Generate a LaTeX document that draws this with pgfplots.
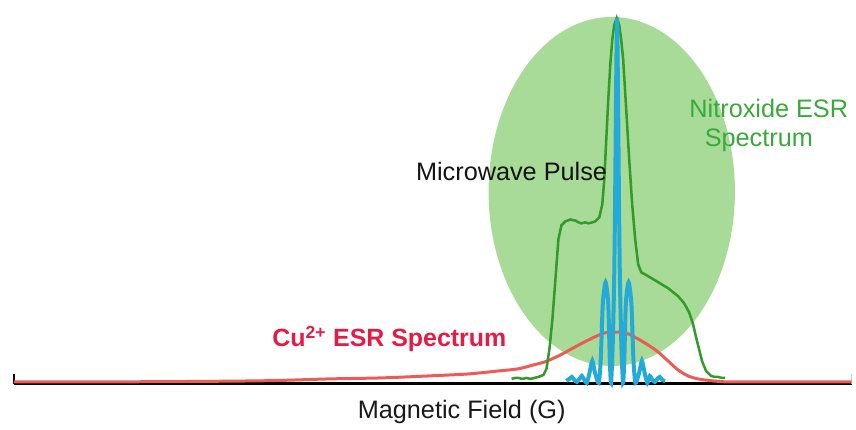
\documentclass[border=0pt]{standalone}
\usepackage{pgfplots}
\pgfplotsset{compat=1.18}
\usepackage{fontspec}
\setmainfont{Liberation Sans}
\definecolor{ellfill}{RGB}{168,218,152}
\definecolor{nitline}{RGB}{50,156,42}
\definecolor{nittext}{RGB}{58,168,58}
\definecolor{culine}{RGB}{236,92,86}
\definecolor{cutext}{RGB}{226,28,68}
\definecolor{pulse}{RGB}{36,170,216}
\newcommand{\lab}{\fontsize{19}{23}\selectfont}
\begin{document}
\begin{tikzpicture}
\begin{axis}[
  scale only axis, width=630pt, height=288.75pt,
  xmin=14, xmax=854, ymin=0, ymax=385,
  axis x line*=bottom, axis y line=none,
  xtick={14}, xticklabels={}, ytick=\empty,
  extra x ticks={854}, extra x tick labels={},
  extra x tick style={tick style={gray!40, line width=1pt}},
  tick align=inside, major tick length=7.5pt,
  every tick/.style={black, line width=1.8pt},
  axis line style={line width=2.25pt, black},
  clip=false,
  xlabel={Magnetic Field (G)},
  xlabel style={at={(axis cs:463,-35)}, anchor=base, font=\lab, text=black!90, inner sep=0pt},
]
\path (axis cs:0,-46) rectangle (axis cs:856,385);
\fill[ellfill] (axis cs:613.5,193) ellipse [x radius=123.5, y radius=175];

% Cu2+ spectrum (y = 385 - pixel y)
\addplot[culine, line width=2.25pt, smooth] coordinates {
(14,2)(100,2)(200,2.5)(273,3.3)(330,5)(382,6)(430,8)(470,10)(500,13)(519,15)(535,19)(546,22)(560,28)(573,35)(590,44)(606,51)(618,52)(628,51)(640,45)(650,39)(660,32)(670,23)(680,14)(690,8)(700,5)(715,3)(730,2)(760,2)(854,2)};

% Nitroxide spectrum
\addplot[nitline, line width=1.9pt] coordinates {
(513,5)(517,6)(520,6)(524,5)(528,6)(532,5)(536,6)(540,7)(545,9)(548,15)(551,35)(554,65)(557,105)(560,145)(563,159)(567,163)(570,164)(572,165)(575,164)(577,164)(580,162)(583,161)(587,162)(590,161)(594,162)(597,163)(601,167)(604,180)(606,205)(608,245)(610,285)(612,320)(614,345)(616,360)(618.5,367)(621,360)(623,345)(625,325)(628,275)(631,225)(634,180)(637,145)(640,120)(643,112)(650,108)(655,105)(660,102)(665,99)(670,96)(675,92)(680,88)(686,81)(691,72)(695,60)(698,47)(701,35)(704,23)(708,13)(713,8)(717,7)(720,7)(724,6)(727,6)};

% Microwave pulse
\addplot[pulse, line width=3pt, smooth, tension=0.4] coordinates {
(568,3)(571,5)(573.5,7)(576,4)(578.5,2)(581,5)(583.5,8)(586,4)(588.5,1)(591,10)(594,23)(597,10)(600.5,1)(602.5,25)(604.5,80)(607.3,102)(610,80)(611.5,25)(612.8,1)(614.5,40)(616,110)(617,200)(617.9,300)(618.8,367)(619.7,300)(620.6,200)(621.6,110)(623.1,40)(624.8,1)(626.1,25)(627.6,80)(630.4,102)(633.2,80)(635.2,25)(637.2,1)(640.7,10)(643.7,23)(646.7,10)(649.2,1)(651.7,8)(654.2,4)(656.7,2)(659.2,5)(661.7,7)(664,4)(667,3)};

\node[anchor=base west, inner sep=0pt, font=\lab, text=black!92] at (axis cs:417,204.3) {Microwave Pulse};
\node[anchor=base, inner sep=0pt, font=\lab, text=nittext] at (axis cs:771,267.3) {Nitroxide ESR};
\node[anchor=base, inner sep=0pt, font=\lab, text=nittext] at (axis cs:761,237.7) {Spectrum};
\node[anchor=base west, inner sep=0pt, font=\fontsize{18.75}{22}\selectfont\bfseries, text=cutext] at (axis cs:273,37.3) {Cu\textsuperscript{2+} ESR Spectrum};
\end{axis}
\end{tikzpicture}
\end{document}
